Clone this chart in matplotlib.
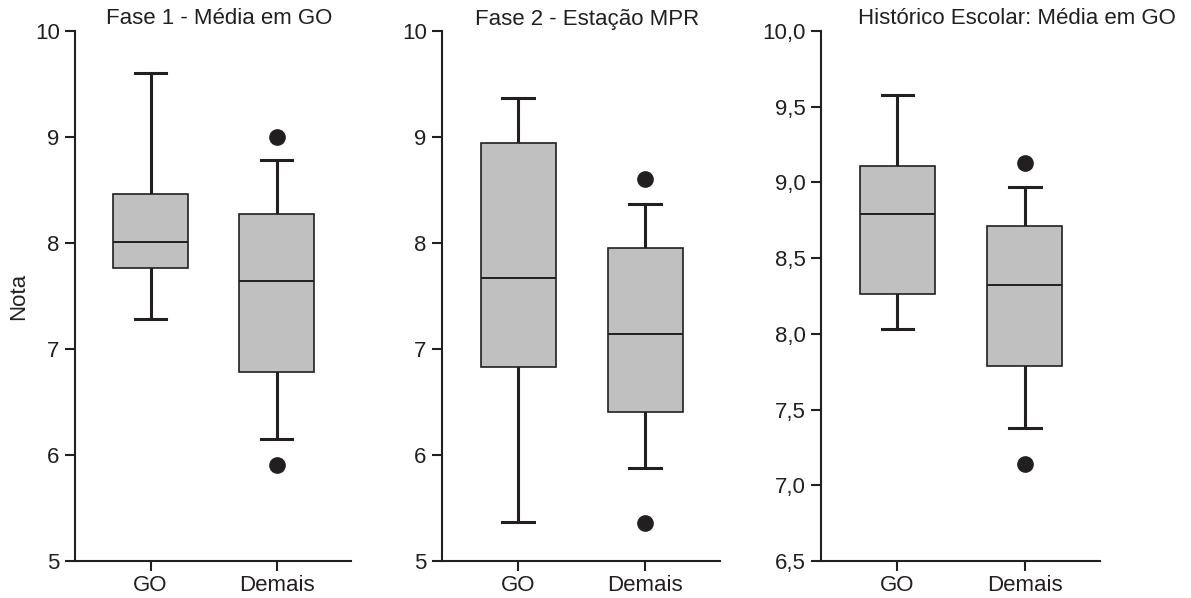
import matplotlib
matplotlib.use("Agg")
import matplotlib.pyplot as plt
from matplotlib.ticker import FuncFormatter

plt.rcParams['font.family'] = ['Liberation Sans', 'DejaVu Sans']

categories = ["GO", "Demais"]
titles = ["Fase 1 - Média em GO", "Fase 2 - Estação MPR", "Histórico Escolar: Média em GO"]

# [whislo, q1, median, q3, whishi]
p1_go = [7.28, 7.76, 8.01, 8.46, 9.60]
p1_demais = [6.15, 6.78, 7.64, 8.27, 8.78]
p1_out = [[], [9.00, 5.91]]

p2_go = [5.37, 6.83, 7.67, 8.94, 9.37]
p2_demais = [5.88, 6.41, 7.14, 7.95, 8.37]
p2_out = [[], [8.60, 5.36]]

p3_go = [8.03, 8.26, 8.79, 9.11, 9.58]
p3_demais = [7.38, 7.79, 8.32, 8.71, 8.97]
p3_out = [[], [9.13, 7.14]]

ylims = [(5, 10), (5, 10), (6.5, 10.0)]
yticks = [[5, 6, 7, 8, 9, 10], [5, 6, 7, 8, 9, 10],
          [6.5, 7.0, 7.5, 8.0, 8.5, 9.0, 9.5, 10.0]]

panels = [(p1_go, p1_demais, p1_out), (p2_go, p2_demais, p2_out),
          (p3_go, p3_demais, p3_out)]

dark = "#231f20"
fill = "#c0c0c0"

fig = plt.figure(figsize=(11.91, 5.98), dpi=100)
lefts = [75, 442, 821]
rights = [351, 720, 1100]
title_cx = [219, 587, 1017]
W, H = 1191, 598
bottom = 1 - 561 / H
top = 1 - 31 / H

for i, (go, dm, outs) in enumerate(panels):
    ax = fig.add_axes([lefts[i] / W, bottom, (rights[i] - lefts[i]) / W, top - bottom])
    stats = []
    for lab, s, o in zip(categories, [go, dm], outs):
        stats.append(dict(label=lab, whislo=s[0], q1=s[1], med=s[2], q3=s[3],
                          whishi=s[4], fliers=o))
    ax.bxp(stats, positions=[1, 2], widths=0.59, capwidths=0.25,
           patch_artist=True, showfliers=True,
           boxprops=dict(facecolor=fill, edgecolor=dark, linewidth=1.2, zorder=3),
           medianprops=dict(color=dark, linewidth=1.4, zorder=4),
           whiskerprops=dict(color=dark, linewidth=2.2, zorder=2),
           capprops=dict(color=dark, linewidth=2.2),
           flierprops=dict(marker='o', markerfacecolor=dark, markeredgecolor=dark,
                           markersize=11, linestyle='none'))
    ax.set_xlim(0.40, 2.59)
    ax.set_ylim(*ylims[i])
    ax.set_yticks(yticks[i])
    if i == 2:
        ax.yaxis.set_major_formatter(FuncFormatter(lambda v, p: f"{v:.1f}".replace('.', ',')))
    else:
        ax.yaxis.set_major_formatter(FuncFormatter(lambda v, p: f"{v:.0f}"))
    ax.set_xticks([1, 2])
    ax.set_xticklabels(categories)
    for sp in ['top', 'right']:
        ax.spines[sp].set_visible(False)
    for sp in ['left', 'bottom']:
        ax.spines[sp].set_linewidth(1.5)
        ax.spines[sp].set_color(dark)
    ax.tick_params(axis='both', direction='out', length=7, width=1.5, color=dark,
                   labelsize=16, labelcolor=dark)
    ax.tick_params(axis='x', pad=3)
    ax.tick_params(axis='y', pad=4)
    tx = (title_cx[i] - lefts[i]) / (rights[i] - lefts[i])
    ax.text(tx, 1.0 + 12 / (561 - 31), titles[i], transform=ax.transAxes,
            ha='center', va='center', fontsize=16, color=dark)
    ax.set_facecolor('none')
    if i == 0:
        ax.set_ylabel("Nota", fontsize=16, color=dark)
        ax.yaxis.set_label_coords((29 - lefts[0]) / (rights[0] - lefts[0]), 0.5)

fig.savefig("out.png", dpi=100)
